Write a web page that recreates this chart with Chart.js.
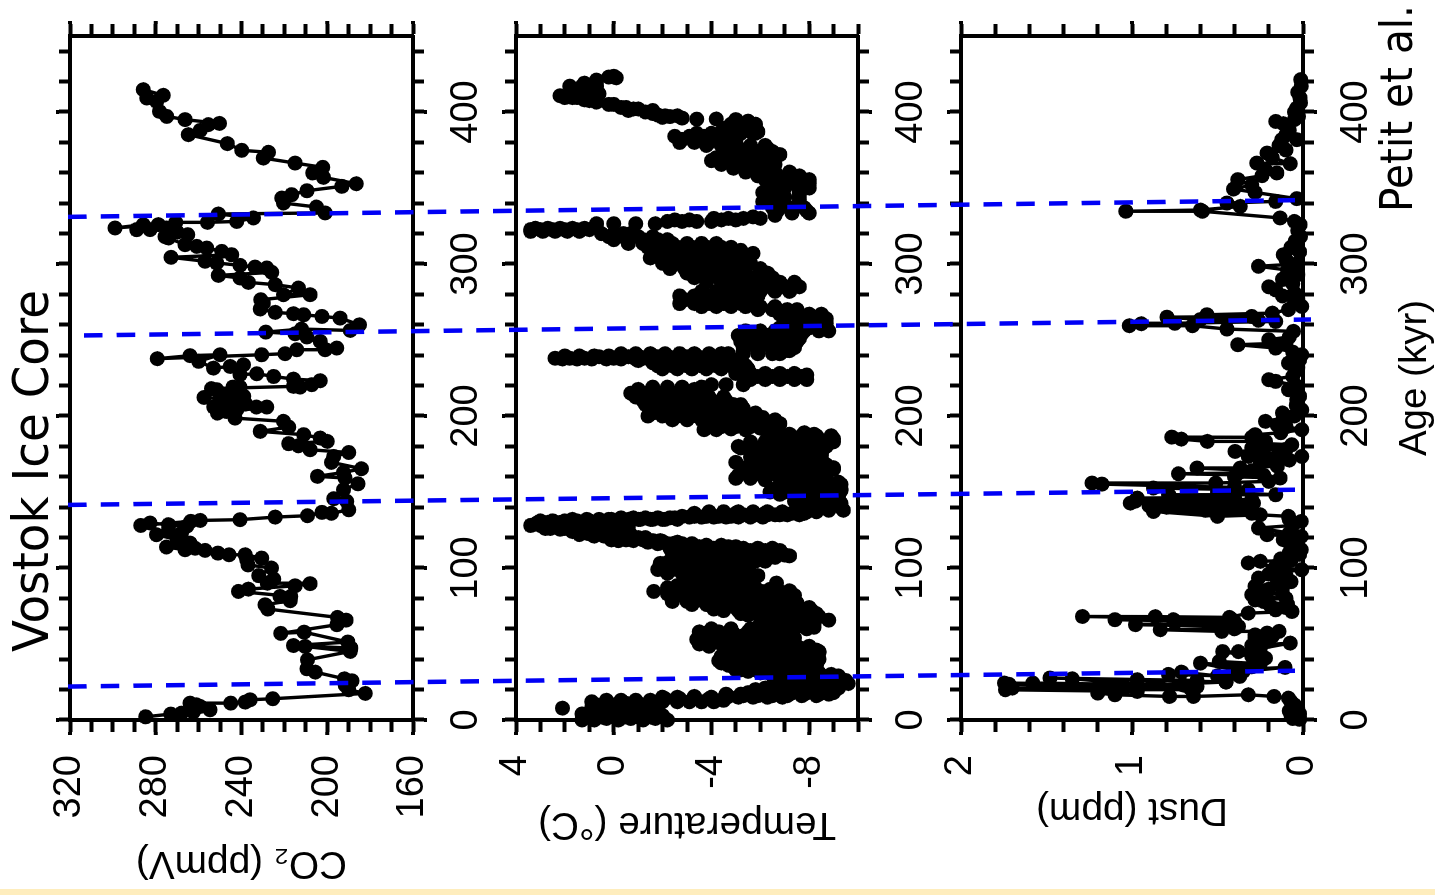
<!DOCTYPE html>
<html><head><meta charset="utf-8">
<script src="https://cdn.jsdelivr.net/npm/chart.js@4"></script>
<style>
html,body{margin:0;padding:0;background:#fff;overflow:hidden}
#wrap{position:relative;width:1435px;height:895px;overflow:hidden;background:#fff}
#strip{position:absolute;left:0;top:889px;width:1435px;height:6px;background:#FEEDBD}
canvas{position:absolute!important;left:0;top:0;transform-origin:0 0;transform:translate(0,895px) rotate(-90deg)}
</style></head><body>
<div id="wrap"><div id="strip"></div></div>
<script>
const co2Age=[
2.1,3.9,4.5,5.2,6.7,8.9,10,11.1,11.1,11.8,
13.3,14,17.5,19.9,22.8,25.8,27.1,31.5,33.7,39.6,
45.1,48.4,47.3,49,51.3,57.8,57,62.7,65.7,67.5,
73,75.8,78.5,81.3,81.3,84.6,86.1,88.3,89.7,90,
92.7,95,100,102,105.4,106.5,108.7,108.7,109.8,111.6,
113,112,113.8,116.4,118.6,121.9,125,123,127.4,128.5,
129.6,128,130.7,131.3,131.8,133.5,134.4,136.6,136,138.3,
143.8,145.6,151.5,155.4,159.2,160.3,162.9,165.3,169.5,173.4,
176,177.8,180.4,181.8,183.3,185.5,187.7,189.9,192.7,196.5,
198.6,201.9,205.9,205.9,204.1,210.7,212.2,217.3,219,219,
207,209,203,214,211,208,213,206,215,218,
219.5,219,220.6,223.2,224.3,226,227.8,227.2,233.7,232.6,
231.5,236,240.3,239.7,237.7,240.3,241,243.6,243.6,244.7,
249.1,252,254.1,255.2,257.2,256.3,260,264.4,265.5,266.6,
267.3,268.2,270.4,274.3,276.5,279.8,279.8,284.2,286.4,287.9,
290.8,292.5,294.5,297.4,298,299.1,300.7,301.8,304.4,306.1,
308.3,310.5,311.6,312.7,317.1,318,319.3,321,323.7,322.6,
322.6,325.9,323.7,325.9,327.4,327.4,328,330.3,332.9,333.6,
337.5,340.1,343.4,345.6,348.2,351.1,352.8,357,359.9,363.6,
366.4,369.7,373.5,374.8,379.2,385.1,387.9,391.7,392.5,395,
397.1,400.4,407,409.2,411,414.7];
const co2Ppm=[
284.7,273,268,262.5,254.7,259.3,261,264,245,238.3,
236,225.4,182.3,190,191.6,188.5,192,205.6,209.5,209.2,
189.3,210.3,189,215.8,190.4,210.8,221.7,195.5,191.2,195.2,
227.7,229,217.3,222,217,241.4,236.8,215,208,228,
225,232,226,237,237.5,230.6,238.3,245.8,251,257,
261.7,266.3,275,264,270,279.6,274,268,265.6,274,
282.7,287,263.7,259.3,240.7,224.3,209.2,202.5,198,190,
190.9,197,192.4,185.7,191.7,204.6,192.4,184,198,197,
190,208,213.4,218,200,203.3,211,231.3,218,220.4,
243,251.2,228.2,233,242.2,240.7,257.5,251.6,244,240.7,
250,245,247,247,250,238,239,253,243,254,
215.8,212.7,207.2,203.3,215.8,225,232.9,240.7,239.1,245.3,
253.1,260,250,264,279.3,230.6,219.7,214.2,201,195.6,
203.3,209.5,215,228.7,212,189.3,185,194,202.5,211,
215.8,224.3,231.3,229.8,231,208,220.4,213.4,224.3,236.8,
240.7,250.8,225.9,228.2,233.7,240.7,251.6,257,272.9,244.6,
249.2,256.2,260.9,266.3,274.1,275.7,265.1,270,275,282.7,
288.9,285.8,299,278.8,270.7,255.9,242.2,234.4,250.8,201,
205,220.4,221.2,216.6,209.5,193.2,186.5,201.8,206.8,202.1,
215,229.8,227.4,239.9,246.6,264.8,259.3,255.4,250.3,266.3,
274.9,278.3,279.6,284.2,276.5,285.8];

const tempAge=[
0,0,1,0,1,0,1,0,
4,4,5,4,5,4,3,6,
8,9,8,9,8,9,10,10,
7.8,11,11,12,12,12,12,12,
12,13,12,13,13,13,13,14,
14,14,14,14,15,15,15,15,
15,15,15.5,15,15.5,16,16,16,
16,16,16,17,18,18,18,18,
18,18,18,20,20,20,20,20,
20,23,22,23,22,23,24,22,
26,26,26,26,26,26,27,28,
28,28,29,30,29,31,31,31,
31,31,32,33,34,34,34,34,
34,36,36,36,36,36,36,36,
39,40,39,40,39,40,39,40,
43,42,43,42,43,42,43,42,
46,47,46,47,46,47,46,45,
50,50,51,50,51,50,51,50,
53,54,53,54,53,54,53,54,
57,58,57,58,57,58,57,58,
61,62,61,62,61,64,64,64,
67,67,67,67,65.7,68,70,70,
70,70,71,70,74,74,74,74,
74,74,74,73,78,78,79,78,
78,79,78,79,78,77,82,82,
82,83,82,83,82,83,82,83,
84.6,87,86,87,86,87,86,87,
86,85,90.1,91,90,91,90,91,
91,95,94,95,94,95,95,98,
98,98,98,99,99,100,99,100,
100,99,102,103,102,103,102,103,
103,107,106,107,106,107,106,107,
107,108,110,110,110,110,110,110,
110,110,113,113,114,113,114,113,
113,113,114,115,115,116,117,117,
117,118,118,113,114,115,116,118,
120,120,121,121,122,115,118,120,
122,123,123,123,124,126,125,125,
125,125,126,126,127,127,127,127,
127,127,128,128,129,129,129,129,
129,129,129,130,132,132,132,133,
132,133,133,133,133,133,134,134,
134,134,134,135,135,135,135,136,
136,137,137,137,137,137,137,137,
137,137,138,138,140,140,140,141,
144,144,144,144,147,147,147,147,
150,150,150,150,150,151,154,154,
154,154,155,159,159,158,159,158,
159,158,163,163,163,163,163,163,
165,168,168,168,168,168,168,169.5,
173,173,173,173,173,174,177,177,
177,177,177,178,180,180,181,180,
181,180,180,185,184,185,184,185,
184,189,188,189,188,191,191,191.5,
191,192,192,195,195,195,195,195,
195,200,200,200,200,200,200,200,
200,199,204,204,205,204,205,204,
205,210,209,210,209,210,209,210,
215,215,215,215,215,213,219,219,
219,219,220.6,220.6,220.6,224,224,224,
224,224,228,228,228,228,228,227,
231,231,231,231,231,231,231,235,
235,235,235,235,235,235,238,238,
238,239,238,239,238,239,238,239,
238,238,241,241,241,241,241,241,
241,241,241,241,241,241,241,245,
245,245,245,245,249,249,249,249,
249,253,253,253,253,253,254,258,
258,258,258,264,264,264,264,270,
270,270,270,274,274,274,274,274,
279,279,279,279,279,279,285,285,
285,285,285,285,291,291,291,291,
291,291,297,297,297,297,297,297,
297,304,304,304,304,304,304,307,
307,307,307,307,307,311,311,311,
311,311,311,311,316,316,316,316,
316,320,320,320,320,322.6,322.6,322.6,
322.6,322.6,322.6,326.5,326.5,326.5,326.5,328,
328,328,328,330,330,330,330,332,
333.5,333.5,337,337,337,341,341,341,
347,347,347,353,353,353,358,358,
358,358,363,363,363,368,368,368,
368,368,372,372,372,372,372,376,
376,376,380,380,380,380,380,384,
384,384,384,384,387,387,387,387,
392,392,392,395,394,395.3,395.4,396,
397,398,400,402,403,405,406.5,408,
409.5,410.7,412,413,415,419,421,423,
423.5,417,396.5,414.7,402,417,417,422.5];
const tempC=[
1.3,.8,.3,-.2,-.7,-1.2,-1.7,-2.2,
1.3,.75,.2,-.35,-.9,-1.45,-2,-1.7,
.9,.4,-.1,-.6,-1.1,-1.6,.7,.1,
2.1,-.5,-1,-1.5,-2,-2.6,-3.1,-3.6,
-4.1,-4.5,.9,.3,-.3,-.9,-1.5,-2.1,
-2.7,-3.3,-3.9,-4.5,-5.1,-5.7,-6.3,-6.9,
-2,-2.6,-3.3,-4,-4.7,-5.3,-5.9,-6.5,
-7.1,-7.7,-8.3,-8.8,-5.5,-6.1,-6.7,-7.3,
-7.9,-8.5,-9,-8.7,-8.2,-7.6,-7,-6.4,
-5.8,-6.6,-7.2,-7.8,-8.4,-9,-9.6,-9.2,
-6.7,-7.3,-7.9,-8.5,-9.1,-9.5,-8.8,-8.2,
-7.6,-7,-6.5,-8.9,-9.2,-8.4,-7.8,-7.2,
-6.6,-6,-5.5,-5,-5.6,-6.2,-6.8,-7.4,
-7.9,-8.3,-7.7,-7.1,-6.5,-5.9,-5.3,-4.7,
-4.3,-4.9,-5.5,-6.1,-6.7,-7.3,-7.9,-8.4,
-8.3,-7.7,-7.1,-6.5,-5.9,-5.3,-4.7,-4.4,
-4.7,-5.3,-5.9,-6.5,-7.1,-7.7,-8.3,-8.4,
-7.4,-6.8,-6.2,-5.6,-5,-4.4,-3.8,-3.5,
-3.4,-4,-4.6,-5.2,-5.8,-6.4,-7,-7.4,
-7.3,-6.7,-6.1,-5.5,-4.9,-4.3,-3.7,-3.5,
-5.9,-6.5,-7.1,-7.7,-8.2,-8,-7.4,-6.8,
-6.2,-6.8,-7.4,-8,-8.8,-8.4,-5.2,-5.8,
-6.4,-7,-7.6,-8.3,-8,-7.4,-6.8,-6.2,
-5.6,-5,-4.4,-4.1,-2.4,-3,-3.6,-4.2,
-4.8,-5.4,-6,-6.6,-7.2,-7.5,-7.4,-6.8,
-6.2,-5.6,-5,-4.4,-3.8,-3.2,-2.6,-2.2,
-1.64,-2.2,-2.8,-3.4,-4,-4.6,-5.2,-5.8,
-6.4,-7.2,-6.66,-5.7,-5.2,-4.6,-4.1,-3.6,
-3,-3.2,-3.8,-4.4,-5,-5.6,-5.9,-5.3,
-4.7,-4.1,-3.5,-1.8,-2.4,-3,-3.6,-4.2,
-4.8,-5.5,-5.1,-4.5,-3.9,-3.3,-2.7,-2.1,
-1.9,-2.5,-3.1,-3.7,-4.3,-4.9,-5.5,-6.1,
-6.6,-7.2,-6.6,-6,-5.4,-4.8,-4.2,-3.6,
-3,-2.4,-2.3,-2.9,-3.5,-4.1,-4.7,-5.3,
-5.9,-6.5,-5,-4.4,-3.8,-3.2,-2.6,-2,
-1.4,-.8,-.2,-4,-3.4,-2.8,-2.2,-1.6,
-1,-.4,.2,.8,1.4,-2.5,-1.9,-1.3,
-.7,-.1,.5,1.1,1.7,-.3,-.4,.2,
.8,1.4,2,2.6,-.6,0,.6,1.2,
1.8,2.4,3,3.4,.4,.9,1.4,1.9,
2.4,2.9,3.2,-.5,-1,-1.5,-2,-2.5,
.2,-.3,-.8,-1.3,-1.8,-2.3,-2.8,-3.3,
-3.8,-4.3,-4.8,-5.3,-5.8,-6.3,-6.8,-7.3,
-3.3,-3.9,-4.5,-5.1,-5.7,-6.3,-6.9,-7.5,
-7.9,-8.3,-8.8,-9.4,-8.1,-8.7,-9.3,-7.6,
-7.4,-8,-8.6,-9.2,-7.5,-8,-8.6,-9.2,
-6.4,-7,-7.6,-8.2,-8.8,-9.3,-6.9,-7.5,
-8.1,-8.7,-9.3,-5,-5.6,-6.2,-6.8,-7.4,
-8,-8.6,-5.3,-5.9,-6.5,-7.1,-7.7,-8.3,
-9,-5.8,-6.4,-7,-7.6,-8.2,-8.7,-5,
-5.6,-6.2,-6.8,-7.4,-8,-8.5,-5.9,-6.5,
-7.1,-7.7,-8.3,-8.5,-5.1,-5.7,-6.3,-6.9,
-7.5,-8.1,-8.7,-6.3,-6.9,-7.5,-8.1,-9,
-8.5,-6.7,-7.2,-7.8,-8.2,-3.7,-4.2,-4.8,
-5.4,-6,-6.3,-4.1,-4.7,-5.3,-5.9,-6.5,
-6.8,-1.4,-2,-2.6,-3.2,-3.8,-4.4,-5,
-5.6,-6.1,-1.6,-2.2,-2.8,-3.4,-4,-4.6,
-5.3,-1.2,-1.8,-2.4,-3,-3.6,-4.2,-4.6,
-.7,-1.3,-1.9,-2.5,-3.1,-3.3,-1.6,-2.2,
-2.8,-3.6,-4,-4.6,-5.3,-5.6,-6.2,-6.8,
-7.4,-7.9,-5,-5.6,-6.2,-6.8,-7.4,-7.9,
-2,-2.6,-3.2,-3.8,-4.4,-5,-5.5,-1.6,
-2.2,-2.8,-3.4,-4,-4.6,-5.2,2.4,1.8,
1.2,.6,0,-.6,-1.2,-1.8,-2.4,-3,
-3.6,-4.4,-.3,-.9,-1.5,-2.1,-2.7,-3.3,
-3.9,-4.4,-4.7,-5.3,-5.9,-6.5,-6.8,-5.3,
-5.9,-6.5,-7.1,-7.4,-5.2,-5.8,-6.4,-7,
-7.5,-5.1,-5.7,-6.3,-6.9,-7.5,-7.7,-6.8,
-7.4,-8,-8.7,-7.2,-7.8,-8.4,-8.7,-5.9,
-6.5,-7.1,-7.5,-2.7,-3.3,-3.9,-4.5,-5.2,
-2.7,-3.3,-3.9,-4.5,-5.1,-5.9,-4.6,-5.2,
-5.8,-6.4,-7,-7.6,-3.3,-3.9,-4.5,-5.1,
-5.7,-6.5,-2.3,-2.9,-3.5,-4.1,-4.7,-5.3,
-6,-1.5,-2.1,-2.7,-3.3,-3.9,-4.4,-5.7,
-5.1,-4.5,-3.9,-3.3,-2.7,-1.4,-2,-2.6,
-3.2,-3.8,-4.4,-4.8,0,-.6,-1.2,-1.8,
-2.2,.5,0,-.4,-.7,1,1.5,2,
2.5,3,3.4,.7,0,-.9,-1.7,-2.2,
-2.8,-3.4,-4,-4.1,-4.7,-5.3,-6,-6.6,
-7.3,-8,-6.5,-7.2,-7.8,-6.1,-6.8,-7.6,
-6.1,-6.8,-7.6,-6.8,-7.4,-8,-5.9,-6.5,
-7.1,-7.6,-4.9,-5.5,-6.3,-4,-4.6,-5.2,
-5.8,-6.4,-4.5,-5.1,-5.7,-6.3,-6.8,-4.9,
-5.5,-6.3,-2.7,-3.3,-3.9,-4.5,-5,-2.5,
-3.1,-3.7,-4.3,-4.9,-4.4,-5,-5.6,-5.9,
-4.8,-5.3,-5.8,-5,-5.5,-3.4,-4.2,-2.8,
-2.3,-1.8,-1.3,-.8,-.3,.2,.7,1.2,
1.7,2.2,.6,1.1,1.6,1.2,.7,.2,
0,1.8,-2,.8,-1,1.3,.7,-.1];

const tempRowAge=[2,6,17,21,24.5,29.5,33,37.5,41,44.5,48.5,52,55.5,60,63,69,72,76,80,84.5,88.5,92.5,96.5,101,104.5,108.5,111.5,
118.5,124,131,116,136,142.5,148.5,152,156.5,161,166,171,175.5,179,183,187,193,197.5,202,207.5,212.5,217.5,226,233,236.5,239.5,
243,247,251,256,261,267,272,276.5,282,288,294,300.5,305.5,309,313.5,318,335,344,350,355.5,360.5,365.5,370,374,378,382,386,389.5,401,
130,132,133.5,135,237.5,321.5,323.5,329,331,126,125.5,122.5,121,119,117.5,114.5,112.5,397.5,399,403,405,407.5,409.5];
const tempRowC=[
[1,.5,0,-.5,-1,-1.5,-2],[.7,.2,-.3,-.8,-1.3,-1.8],[-6,-6.6,-7.2,-7.8,-8.4,-5.2,-4.6],[-6.2,-6.9,-7.5,-8.1,-8.7,-9.2],[-6.9,-7.5,-8.1,-8.7,-9.3],
[-6.7,-7.3,-7.9,-8.5],[-5.2,-5.8,-6.4,-7,-7.6],[-4.4,-5,-5.6,-6.2,-6.8,-7.4,-8],[-4.6,-5.2,-5.8,-6.4,-7,-7.6,-8.2],[-4.9,-5.5,-6.1,-6.7,-7.3,-7.9,-8.4],
[-3.9,-4.5,-5.1,-5.7,-6.3,-6.9,-7.5,-8],[-3.6,-4.2,-4.8,-5.4,-6,-6.6,-7.2],[-3.5,-4.1,-4.7,-5.3,-5.9,-6.5,-7.1],[-4,-4.8,-5.6,-6.2,-6.8,-7.4,-7.9],[-6,-6.6,-7.2,-7.8,-8.2],
[-5.5,-6.1,-6.7,-7.3,-7.9,-8.2],[-4.5,-5.1,-5.7,-6.3,-6.9,-7.5,-8.1],[-3.2,-3.8,-4.4,-5,-5.6,-6.2,-6.8,-7.4],[-2.4,-3,-3.6,-4.2,-4.8,-5.4,-6,-6.6,-7.2],[-2.5,-3.1,-3.7,-4.3,-4.9,-5.5,-6.1,-6.8],
[-2.6,-3.2,-3.8,-4.4,-5,-5.6],[-3.1,-3.7,-4.3,-4.9,-5.5],[-2.2,-2.8,-3.4,-4,-4.6,-5.2,-5.6],[-1.9,-2.6,-3.2,-3.8,-4.4,-5,-5.5],[-2.3,-2.9,-3.5,-4.1,-4.7,-5.3,-5.8,-6.2],
[-2.8,-3.4,-4,-4.6,-5.2,-5.8,-6.4,-7],[-2.6,-3.2,-3.8,-4.4,-5,-5.6,-6.2,-6.8],
[-1.2,-.5,.1],[-.2,.5,1,1.5],[3,2.5,2,1.5,1,.5,0],[-2.8,-2.4,-1.8],[-7.8,-6.2,-5],[-7.5,-8.1,-8.7,-9.3],[-6.8,-7.4,-8,-8.6,-9.2],[-6.6,-7.2,-7.8,-8.4,-9,-9.3],[-6.9,-7.5,-8.1,-8.7,-9.2],
[-5.1,-5.7,-6.3,-6.9,-7.5,-8.1,-8.7],[-5.4,-6,-6.6,-7.2,-7.8,-8.4,-9],[-5.7,-6.3,-6.9,-7.5,-8.1,-8.5],[-5.7,-6.3,-6.9,-7.5,-8.1,-8.5],[-5.2,-5.8,-6.4,-7,-7.6,-8.2,-8.6],[-5.6,-6.2,-6.8,-7.4,-8,-8.6,-9],[-6.5,-7.1,-7.7,-8.3,-8.9],
[-4.4,-5,-5.6,-6.2,-6.6],[-2.4,-3,-3.6,-4.2,-4.8,-5.4,-6,-6.6],[-1.6,-2.2,-2.8,-3.4,-4,-4.6,-5.2,-5.8],[-1.3,-1.9,-2.5,-3.1,-3.7,-4.3,-4.9,-5.2],[-.9,-1.5,-2.1,-2.7,-3.3,-3.9,-4.5],[-1,-1.6,-2.2,-2.8,-3.3],[-5.3,-5.9,-6.5,-7.1,-7.7],
[-1.8,-2.4,-3,-3.6,-4.2,-4.8,-5.4],[-1,-1.6,-2.2,-2.8,-3.4,-4,-4.6,-5],[2,1.4,.8,.2,-.4,-1,-1.6,-2.2,-2.8,-3.4,-4],
[-5.3,-5.9,-6.5,-7,-7.2],[-5.5,-6.1,-6.7,-7.3],[-5.4,-6,-6.6,-7.2,-7.6],[-5.4,-6,-6.6,-7.2,-7.8,-8.4,-8.8],[-7,-7.6,-8.2,-8.7],[-6.8,-7.4,-8,-8.5],[-3.6,-4.2,-4.8,-5.4,-6,-6.6],[-2.9,-3.5,-4.1,-4.7,-5.3,-5.7],
[-3.6,-4.2,-4.8,-5.4,-6,-6.6,-7.2],[-3.8,-4.4,-5,-5.6,-6.2,-6.8,-7.4],[-3,-3.6,-4.2,-4.8,-5.4,-6,-6.3],[-2,-2.6,-3.2,-3.8,-4.4,-5,-5.6],[-1.8,-2.4,-3,-3.6,-4.2,-4.8,-5.4],[-1.8,-2.4,-3,-3.6,-4.2,-4.8,-5.2],[-.6,-1.2,-1.8,-2.4,-3,-3.6,-4.2],[.2,-.4,-1,-1.6],
[-6.7,-7.3,-7.9],[-6.3,-7,-7.6],[-6.3,-7,-7.6,-8],[-6.2,-6.8,-7.4,-8],[-5.4,-6,-6.6,-7.2],[-4.4,-5,-5.6,-6.2,-6.6],[-4.2,-4.8,-5.4,-6,-6.6],[-4.7,-5.3,-5.9,-6.5],[-3.8,-4.4,-5,-5.6,-6.2],[-2.8,-3.4,-4,-4.6,-5],[-3.4,-4,-4.6,-5.2,-5.8],[-4.6,-5.2,-5.8],[-.6,-1.6],
[3.1,2.7,2.2,1.7,1.2,.7],[1.7,1.1,.6,.1,-.6,-1.1,-1.6,-2.1,-2.6],[-3.1,-3.6,-4.1,-4.6,-5.1,-5.6,-6.1],[-6.6,-7.1,-5.6,-6.1,-7.6],[2.1,1.5,.9,.3,-.3,-.9,-1.5,-2.1,-2.7,-3.3,-3.9],[3.4,2.9,2.4,1.9,1.4],[3.2,2.7,2.2,1.7,1.2],[-2.5,-3.1,-4.4,-5],[-5.7],
[2.8],[2.2],[1],[.4],[-.8],[-1.4,-2],[-3.8],[-5],[-2.6,-2.1],[-1.6],[-.5],[0],[1],[1.5,2]];

const dustAge=[
.5,1,2,3,4,5,6,7,8,10,
12,14.4,15.5,16.6,15.5,15.5,16.6,17.7,18.8,19.9,
20,21,22,23.5,24.3,23,24.3,22,25,27.6,
26,27.1,21,26.5,25,28.7,30,31.5,29,32,
34.6,33,37.4,35,38.5,37,40.7,42,45,44,
45,47,50.6,49,52,53.9,55,57.2,56,58.3,
58.3,59.4,60,61.6,62.7,63,64,64.5,66,66,
66.5,68.1,68,67.5,70.3,71.4,72.5,74,75,76,
78,79,80,81,82.4,83,84,86,87,88,
90,91,93.4,95,96,98.9,100,101,103.3,104.4,
105,106,107.6,109,110,112,114,116,118.6,120.8,
121.9,123,126.3,128,130.7,132,134,135,134,137.2,
136,138,139,138.5,140,141,141,142.7,142.7,144,
144,145,146,146.5,147,148.2,148.2,150,151.5,152.6,
153,155.2,155.9,155.9,157,159.2,160,161,162,162.5,
164,165.8,165.8,167,169,171,172,173.4,173.4,175,
176.7,178,179,181.1,182,183.3,183.3,184.8,186.1,186,
187.7,189,191,193,194,196.5,198.6,200,202,204,
207,210.7,213,217.3,220,222.8,223.9,226,229.3,232,
234.8,237,240.3,242,244.7,246.9,248,250.2,252,255.7,
257.2,259.4,259.4,260.7,261,262.2,263,263.5,265,265.5,
266.6,267.7,270,272.1,275,277,279,281,283,285,
287,290,293,296,298.5,300,303,306.1,308,311,
315,318,322,325.9,328,330.3,334.7,334.7,335.5,337.9,
340.1,341.2,343,347.1,349.3,352,355.5,358.1,359.9,362,
366.4,366,370,373,375,378,381.8,381.8,385,388,
392.3,393.8,395,397.1,400,402.6,406,409.2,413,417,
421.3];
const dustPpm=[
.02,.06,.03,.07,.02,.05,.08,.03,.06,.05,
.07,.085,.17,.32,.64,.78,1.1,1.2,.97,1.74,
.65,1.7,.62,1.72,1.745,.7,1.58,1.1,.45,1.48,
.62,1.35,.66,.97,.45,.37,.786,.71,.5,.35,
.105,.4,.6,.3,.49,.25,.22,.3,.47,.27,
.377,.25,.075,.3,.2,.28,.18,.21,.28,.14,
.475,.835,.4,.377,.98,.42,.75,.4,1.1,.757,
.42,1.29,.864,.43,.32,.065,.16,.1,.19,.09,
.23,.28,.1,.24,.3,.12,.27,.2,.12,.28,
.15,.07,.26,.1,.2,.008,.12,.16,.32,.25,
.07,.13,.085,.02,.08,.01,.07,.03,.115,.01,
.21,.08,.26,.06,.01,.08,.085,.25,.5,.874,
.3,.57,.88,.35,.8,.3,.9,.29,1.01,.4,
.98,.3,.97,.4,.78,.786,.16,.5,.32,.874,
.4,1.176,1.234,.51,.2,.134,.4,.23,.728,.377,
.3,.62,.367,.15,.25,.08,.24,.007,.32,.14,
.397,.1,.3,.066,.25,.22,.56,.712,.767,.3,
.28,.13,.007,.1,.15,.22,.115,.05,.12,.007,
.04,.036,.02,.085,.04,.16,.2,.06,.046,.03,
.085,.02,.007,.06,.16,.381,.1,.2,.08,.056,
.445,.646,1.016,.946,.75,.16,.26,.6,.796,.3,
.562,.18,.085,.007,.05,.03,.12,.05,.16,.2,
.06,.12,.03,.09,.26,.04,.1,.115,.02,.07,
.046,.015,.03,.017,.05,.134,.588,1.036,.6,.367,
.445,.16,.036,.28,.406,.3,.381,.24,.153,.22,
.27,.075,.18,.21,.1,.14,.124,.036,.1,.08,
.115,.159,.05,.027,.05,.036,.015,.017,.03,.01,
.013];

const ageTicks=[0,20,40,60,80,100,120,140,160,180,200,220,240,260,280,300,320,340,360,380,400,420,440];
const ageLabels=[0,100,200,300,400];
const co2Ticks=[160,170,180,190,200,210,220,230,240,250,260,270,280,290,300,310,320];
const co2Labels=[160,200,240,280,320];
const tempTicks=[-10,-9,-8,-7,-6,-5,-4,-3,-2,-1,0,1,2,3,4];
const tempLabels=[-8,-4,0,4];
const dustTicks=[0,.2,.4,.6,.8,1,1.2,1.4,1.6,1.8,2];
const dustLabels=[0,1,2];
const boundaryAgeStart=[22,141.5,253,331];
const boundaryAgeEnd=[32.4,151.5,263.5,342];
const boundaryAcrossStart=[0,0,.013,0];
const boundaryAcrossEnd=[1,1,1.013,1];

const CW=895,CH=1500,FONT='"Liberation Sans"';
const AX_L=175,AX_R=859;
Chart.defaults.font.family=FONT;
Chart.defaults.color='#000';
Chart.defaults.animation=false;

function mk(){const c=document.createElement('canvas');c.width=CW;c.height=CH;
  c.style.width=CW+'px';c.style.height=CH+'px';document.getElementById('wrap').appendChild(c);return c.getContext('2d');}

const longTicks={id:'longTicks',afterDraw(ch,a,o){
  const g=ch.ctx,ca=ch.chartArea;g.save();g.strokeStyle='#000';g.lineWidth=4;g.beginPath();
  o.age.forEach(v=>{const p=ch.scales.x.getPixelForValue(v);
    g.moveTo(p,ca.bottom+o.xLen);g.lineTo(p,ca.bottom+o.xLen+3);
    g.moveTo(p,ca.top-o.xLen);g.lineTo(p,ca.top-o.xLen-3);});
  o.val.forEach(v=>{const p=ch.scales.y.getPixelForValue(v);
    g.moveTo(ca.left-o.yLen,p);g.lineTo(ca.left-o.yLen-3,p);
    g.moveTo(ca.right+o.yLen,p);g.lineTo(ca.right+o.yLen+3,p);});
  g.stroke();g.restore();}};

function panel(p){
  const TL=11,VL=12;
  const gridX={drawOnChartArea:false,drawTicks:true,tickLength:TL,tickWidth:4,tickColor:'#000'};
  const gridY={drawOnChartArea:false,drawTicks:true,tickLength:VL,tickWidth:4,tickColor:'#000'};
  const border={display:true,color:'#000',width:4};
  const setX=s=>{s.ticks=ageTicks.map(v=>({value:v}))};
  const setY=s=>{s.ticks=p.ticks.map(v=>({value:v}))};
  const yW=AX_L-p.titleLeft, xH=p.xH, rightW=20, topH=20;
  new Chart(mk(),{type:'scatter',
    data:{datasets:[{data:p.age.map((a,i)=>({x:a,y:p.val[i]})),
      showLine:p.line,borderColor:'#000',borderWidth:3.4,borderJoinStyle:'round',backgroundColor:'#000',
      pointBackgroundColor:'#000',pointBorderColor:'#000',pointBorderWidth:0,pointRadius:7.5,pointHoverRadius:7.5,clip:false,tension:0}]},
    options:{responsive:false,maintainAspectRatio:false,animation:false,devicePixelRatio:1,
      events:[],
      layout:{padding:{left:p.titleLeft,right:CW-AX_R-rightW,top:p.top-topH,bottom:CH-p.bottom-xH}},
      plugins:{legend:{display:false},tooltip:{enabled:false},title:{display:false},
        longTicks:{age:ageLabels,val:p.labels,xLen:TL,yLen:VL}},
      scales:{
        x:{type:'linear',position:'bottom',min:0,max:450,afterBuildTicks:setX,afterFit:s=>{s.height=xH},
          grid:gridX,border,
          ticks:{autoSkip:false,maxRotation:0,minRotation:0,padding:20,font:{size:38},color:'#000',
            callback:v=>ageLabels.includes(v)?String(v):''},
          title:p.xTitle?{display:true,text:p.xTitle,font:{size:38.5},color:'#000',padding:0}:{display:false}},
        xTop:{type:'linear',axis:'x',position:'top',min:0,max:450,afterBuildTicks:setX,afterFit:s=>{s.height=topH},
          grid:gridX,border,ticks:{display:false}},
        y:{type:'linear',position:'left',min:p.min,max:p.max,afterBuildTicks:setY,afterFit:s=>{s.width=yW},
          grid:gridY,border,
          ticks:{autoSkip:false,padding:23,font:{size:38},color:'#000',
            callback:v=>p.labels.includes(v)?String(v):''},
          title:{display:true,text:p.yTitle,font:{size:38.8},color:'#000',padding:0}},
        yRight:{type:'linear',axis:'y',position:'right',min:p.min,max:p.max,afterBuildTicks:setY,afterFit:s=>{s.width=rightW},
          grid:gridY,border,ticks:{display:false}}
      }},
    plugins:[longTicks]});
}

const tempAllAge=tempAge.slice(),tempAllC=tempC.slice();
tempRowAge.forEach((a,i)=>tempRowC[i].forEach(v=>{tempAllAge.push(a);tempAllC.push(v);}));

panel({age:co2Age,val:co2Ppm,line:true,min:160,max:320,ticks:co2Ticks,labels:co2Labels,yTitle:'CO₂ (ppmV)',titleLeft:9,top:70,bottom:413,xH:80});
panel({age:tempAllAge,val:tempAllC,line:false,min:-10,max:4,ticks:tempTicks,labels:tempLabels,yTitle:'Temperature (°C)',titleLeft:48,top:516,bottom:858,xH:80});
panel({age:dustAge,val:dustPpm,line:true,min:0,max:2,ticks:dustTicks,labels:dustLabels,yTitle:'Dust (ppm)',titleLeft:62,top:961,bottom:1303,xH:135,xTitle:'Age (kyr)'});

const freeText={id:'freeText',afterDraw(ch){
  const g=ch.ctx;g.save();g.fillStyle='#000';g.textAlign='left';g.textBaseline='alphabetic';
  g.font='49px "DejaVu Sans"';g.fillText('Vostok Ice Core',243,48,362);
  g.font='44px "DejaVu Sans"';g.fillText('Petit et al.',683,1412,207);
  g.restore();}};

new Chart(mk(),{type:'scatter',
  data:{datasets:boundaryAgeStart.map((a,i)=>({
    data:[{x:a,y:boundaryAcrossStart[i]},{x:boundaryAgeEnd[i],y:boundaryAcrossEnd[i]}],
    showLine:true,borderColor:'#0000F5',borderWidth:4.5,borderDash:[18.6,14.1],borderCapStyle:'butt',pointRadius:0,clip:false}))},
  options:{responsive:false,maintainAspectRatio:false,animation:false,devicePixelRatio:1,events:[],
    layout:{padding:{left:AX_L,right:CW-AX_R,top:68,bottom:CH-1295}},
    plugins:{legend:{display:false},tooltip:{enabled:false}},
    scales:{x:{type:'linear',display:false,min:0,max:450},y:{type:'linear',display:false,min:0,max:1,reverse:true}}},
  plugins:[freeText]});
</script></body></html>
